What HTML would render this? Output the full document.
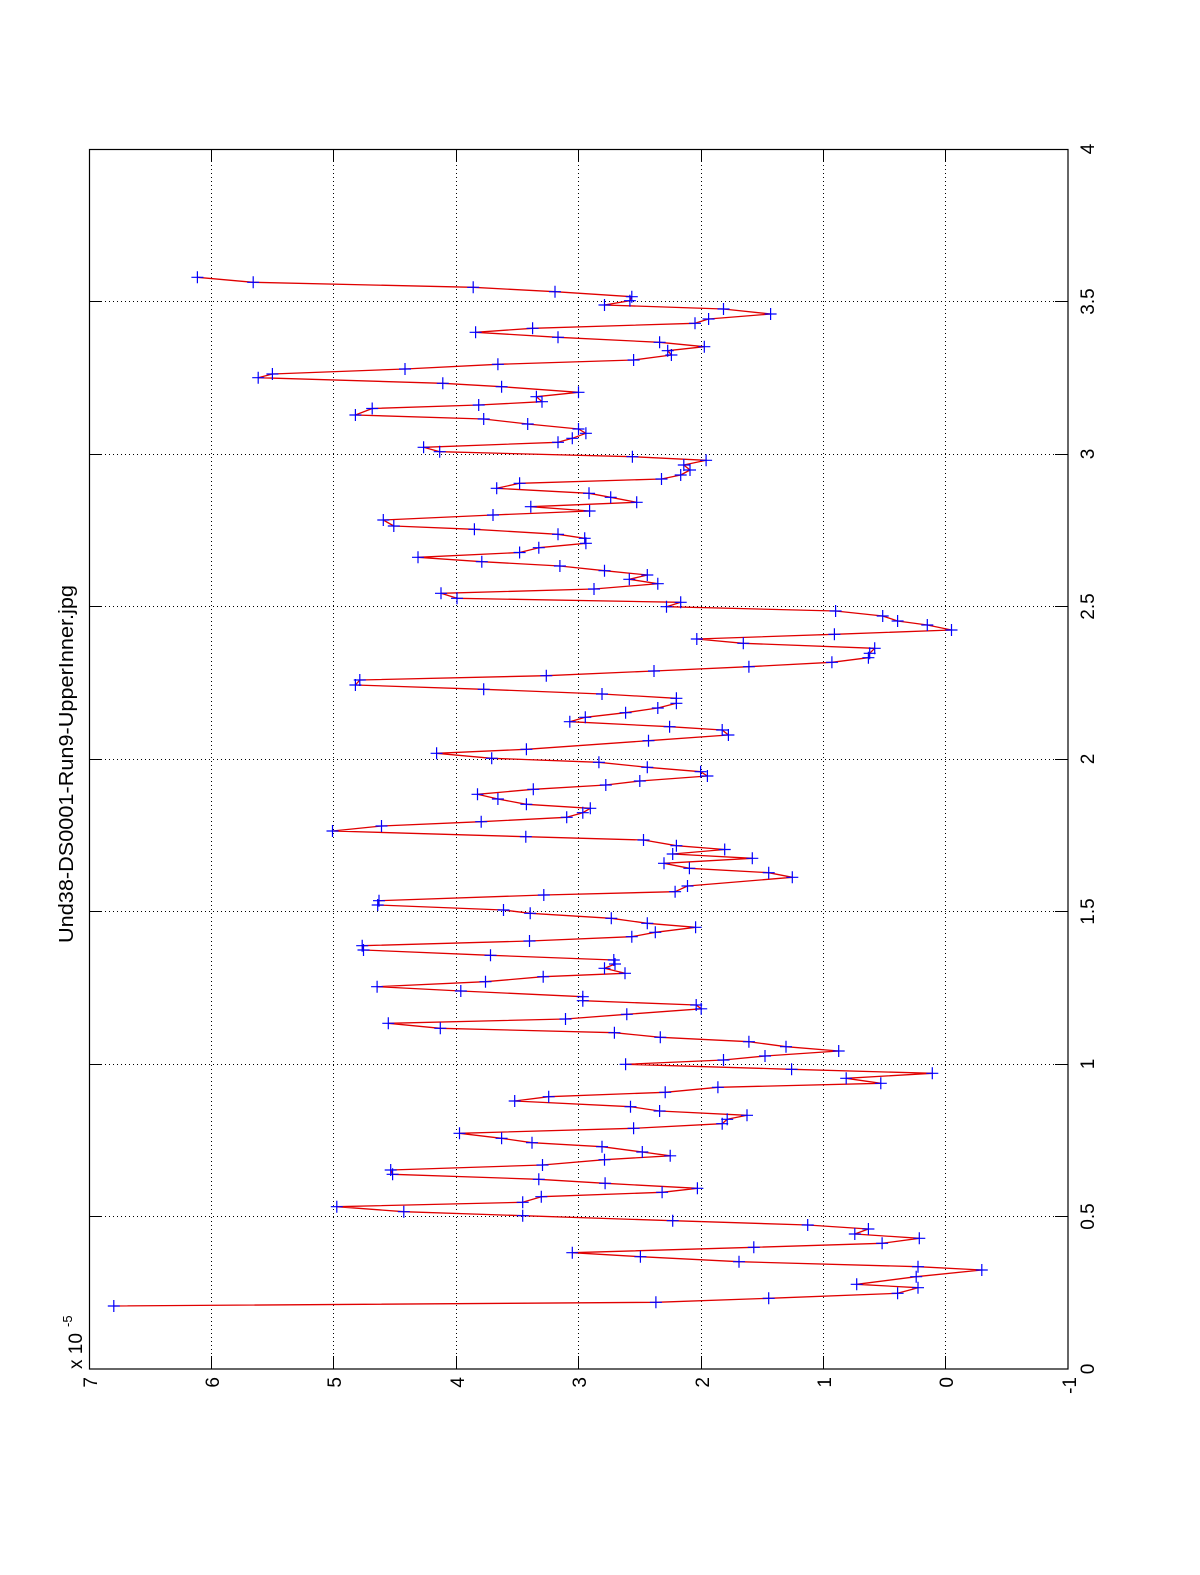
<!DOCTYPE html>
<html>
<head>
<meta charset="utf-8">
<style>
html,body{margin:0;padding:0;background:#fff;}
svg{display:block;}
text{font-family:"Liberation Sans",Arial,sans-serif;fill:#000;}
</style>
</head>
<body>
<svg width="1200" height="1575" viewBox="0 0 1200 1575" xmlns="http://www.w3.org/2000/svg">
<defs>
<marker id="pl" markerUnits="userSpaceOnUse" markerWidth="14" markerHeight="14" refX="7" refY="7" overflow="visible">
<path d="M1 7H13M7 1V13" stroke="#0000ff" stroke-width="1.2" fill="none"/>
</marker>
</defs>
<rect x="0" y="0" width="1200" height="1575" fill="#fff"/>

<!-- grid -->
<g stroke="#000" stroke-width="1" stroke-dasharray="1 3" fill="none">
<line x1="211.5" y1="149" x2="211.5" y2="1369"/>
<line x1="333.5" y1="149" x2="333.5" y2="1369"/>
<line x1="456.5" y1="149" x2="456.5" y2="1369"/>
<line x1="578.5" y1="149" x2="578.5" y2="1369"/>
<line x1="701.5" y1="149" x2="701.5" y2="1369"/>
<line x1="823.5" y1="149" x2="823.5" y2="1369"/>
<line x1="945.5" y1="149" x2="945.5" y2="1369"/>
<line x1="89" y1="1216.5" x2="1068" y2="1216.5"/>
<line x1="89" y1="1064.5" x2="1068" y2="1064.5"/>
<line x1="89" y1="911.5" x2="1068" y2="911.5"/>
<line x1="89" y1="759.5" x2="1068" y2="759.5"/>
<line x1="89" y1="606.5" x2="1068" y2="606.5"/>
<line x1="89" y1="454.5" x2="1068" y2="454.5"/>
<line x1="89" y1="301.5" x2="1068" y2="301.5"/>
</g>

<!-- ticks -->
<g stroke="#000" stroke-width="1" fill="none">
<path d="M211.5 1369V1356M333.5 1369V1356M456.5 1369V1356M578.5 1369V1356M701.5 1369V1356M823.5 1369V1356M945.5 1369V1356"/>
<path d="M211.5 149V162M333.5 149V162M456.5 149V162M578.5 149V162M701.5 149V162M823.5 149V162M945.5 149V162"/>
<path d="M89 1216.5H102M89 1064.5H102M89 911.5H102M89 759.5H102M89 606.5H102M89 454.5H102M89 301.5H102"/>
<path d="M1068 1216.5H1055M1068 1064.5H1055M1068 911.5H1055M1068 759.5H1055M1068 606.5H1055M1068 454.5H1055M1068 301.5H1055"/>
</g>

<!-- data line -->
<polyline fill="none" stroke="#e00000" stroke-width="1.3" stroke-linejoin="round" points="
197.4,277.3 253.2,282.3 473.2,287.3 555,291.7 631.8,296.7 629.9,300.7 604.5,305 723.5,309 770.6,314 708.6,319
695,323.3 532.6,328.3 475.6,332.3 558,337.3 659.6,342.3 704.3,346.7 667.7,350.7 671.4,355 633.6,360 497.9,364.3
405,369 272.4,374 258.2,377.7 442.8,383.3 501.6,386.7 578.5,392.3 536.4,396.7 542,401.7 478.7,405 372.2,408.5
355.4,415 483.7,419 527.7,424 578.5,429 585.9,433.3 572.3,438.3 558,442.3 423.6,447.3 439.7,451.7 632.4,456.7
706.1,460.3 683.8,465 690,470 680.7,475 661.5,479 519.6,483.3 496.7,488.3 589,493.3 610.7,497.3 636.7,502.3
530.8,506.7 589.6,511 493,515 383.3,520 393.8,526 474.4,529.3 558,534.3 584.7,538.3 585.9,543.3 538.8,547.7
519.6,552.5 418,557.3 481.8,561.7 559.9,566 604.5,570.7 647.3,575 629.3,579.3 657.8,583.7 594,589 441,593.3
457,598.3 680.7,602.3 666.5,606.7 835.6,611 882.7,616 897.6,621 927.3,625 951.5,630 834.4,634.3 696.8,639
743.3,643.3 874.7,648.3 869.7,653.3 868.4,657.7 831.9,662.3 748.9,666.7 654,671 546.3,675.7 359.8,680 355.4,685
483.7,689.3 602,694 676.4,698.3 676.4,703.3 657.8,708 625.6,712.7 585.3,717.3 569.8,721.7 669.6,726.7 722.2,730
728.4,735 648.5,740.7 526.4,749.3 436.6,753.3 491.7,758.3 598.9,762.3 647.3,767.3 700.6,771.7 707.4,776 639.8,781
605.8,785 533.3,789.3 477.5,794.3 497.9,799 526.4,804.3 590.3,808.3 582.8,812.7 566.7,817.3 481.2,821.7 381.5,826
332.5,831 525.8,836.7 643.5,840 676.4,845.7 724.7,849.5 672.7,854 752.3,858.3 664,863.3 689.4,868.3 768.7,872.7
792.3,877.3 687.5,886 675.1,891.7 543.8,895 379,900.7 377.7,905 503.5,910 530.2,913.3 611.3,918.3 647.3,923.3
695.6,927.3 655.3,932.3 631.8,936.7 529.5,941 362.2,945.7 363.5,950 490.5,955.3 613.8,960 615,964 604.5,968.3
625,973.3 543.2,976.7 485.5,981.7 377.1,986.7 460.8,991 582.8,996.7 582.8,1000.7 696.2,1005 701.2,1008.8 626.8,1014.3
565.5,1019 388.3,1023.3 440.3,1028.3 614.4,1032.7 660.3,1037.3 748.9,1041.7 786,1046.7 838.7,1051 765,1056 723.5,1060
625.6,1064.3 791.6,1069.3 932.3,1073.3 846.2,1078.3 880.8,1083.3 717.9,1087.3 665.2,1092.3 548.7,1096.7 514.7,1101 630.5,1106.7
659.6,1111 747,1115.3 727.2,1119.3 722.2,1123.7 633.6,1128.3 459.5,1133.3 501.6,1138.3 532,1142.7 602,1146.7 642.3,1152
670.2,1155.8 604.5,1159.7 542.5,1165 390.7,1170 392.6,1174.3 538.8,1179.3 605.1,1183.3 697.4,1188.3 662.1,1192.3 541.3,1196.7
522.7,1202.3 336.8,1206.7 403.8,1211.7 522.7,1215.7 672.7,1220.7 807.7,1225 868.4,1229 854.8,1234 919.3,1238.3 882.1,1243.3
753.8,1247.3 572.3,1252.7 640.4,1256.7 739,1261.7 918,1266.7 981.8,1270 916.2,1276.7 856.7,1284.3 918,1287.7 897.6,1293.3
768.7,1298.3 655.9,1302.3 113.8,1306"/>

<!-- markers -->
<polyline fill="none" stroke="none" marker-start="url(#pl)" marker-mid="url(#pl)" marker-end="url(#pl)" points="
197.4,277.3 253.2,282.3 473.2,287.3 555,291.7 631.8,296.7 629.9,300.7 604.5,305 723.5,309 770.6,314 708.6,319
695,323.3 532.6,328.3 475.6,332.3 558,337.3 659.6,342.3 704.3,346.7 667.7,350.7 671.4,355 633.6,360 497.9,364.3
405,369 272.4,374 258.2,377.7 442.8,383.3 501.6,386.7 578.5,392.3 536.4,396.7 542,401.7 478.7,405 372.2,408.5
355.4,415 483.7,419 527.7,424 578.5,429 585.9,433.3 572.3,438.3 558,442.3 423.6,447.3 439.7,451.7 632.4,456.7
706.1,460.3 683.8,465 690,470 680.7,475 661.5,479 519.6,483.3 496.7,488.3 589,493.3 610.7,497.3 636.7,502.3
530.8,506.7 589.6,511 493,515 383.3,520 393.8,526 474.4,529.3 558,534.3 584.7,538.3 585.9,543.3 538.8,547.7
519.6,552.5 418,557.3 481.8,561.7 559.9,566 604.5,570.7 647.3,575 629.3,579.3 657.8,583.7 594,589 441,593.3
457,598.3 680.7,602.3 666.5,606.7 835.6,611 882.7,616 897.6,621 927.3,625 951.5,630 834.4,634.3 696.8,639
743.3,643.3 874.7,648.3 869.7,653.3 868.4,657.7 831.9,662.3 748.9,666.7 654,671 546.3,675.7 359.8,680 355.4,685
483.7,689.3 602,694 676.4,698.3 676.4,703.3 657.8,708 625.6,712.7 585.3,717.3 569.8,721.7 669.6,726.7 722.2,730
728.4,735 648.5,740.7 526.4,749.3 436.6,753.3 491.7,758.3 598.9,762.3 647.3,767.3 700.6,771.7 707.4,776 639.8,781
605.8,785 533.3,789.3 477.5,794.3 497.9,799 526.4,804.3 590.3,808.3 582.8,812.7 566.7,817.3 481.2,821.7 381.5,826
332.5,831 525.8,836.7 643.5,840 676.4,845.7 724.7,849.5 672.7,854 752.3,858.3 664,863.3 689.4,868.3 768.7,872.7
792.3,877.3 687.5,886 675.1,891.7 543.8,895 379,900.7 377.7,905 503.5,910 530.2,913.3 611.3,918.3 647.3,923.3
695.6,927.3 655.3,932.3 631.8,936.7 529.5,941 362.2,945.7 363.5,950 490.5,955.3 613.8,960 615,964 604.5,968.3
625,973.3 543.2,976.7 485.5,981.7 377.1,986.7 460.8,991 582.8,996.7 582.8,1000.7 696.2,1005 701.2,1008.8 626.8,1014.3
565.5,1019 388.3,1023.3 440.3,1028.3 614.4,1032.7 660.3,1037.3 748.9,1041.7 786,1046.7 838.7,1051 765,1056 723.5,1060
625.6,1064.3 791.6,1069.3 932.3,1073.3 846.2,1078.3 880.8,1083.3 717.9,1087.3 665.2,1092.3 548.7,1096.7 514.7,1101 630.5,1106.7
659.6,1111 747,1115.3 727.2,1119.3 722.2,1123.7 633.6,1128.3 459.5,1133.3 501.6,1138.3 532,1142.7 602,1146.7 642.3,1152
670.2,1155.8 604.5,1159.7 542.5,1165 390.7,1170 392.6,1174.3 538.8,1179.3 605.1,1183.3 697.4,1188.3 662.1,1192.3 541.3,1196.7
522.7,1202.3 336.8,1206.7 403.8,1211.7 522.7,1215.7 672.7,1220.7 807.7,1225 868.4,1229 854.8,1234 919.3,1238.3 882.1,1243.3
753.8,1247.3 572.3,1252.7 640.4,1256.7 739,1261.7 918,1266.7 981.8,1270 916.2,1276.7 856.7,1284.3 918,1287.7 897.6,1293.3
768.7,1298.3 655.9,1302.3 113.8,1306"/>

<!-- axes box -->
<rect x="89.5" y="149.5" width="978.5" height="1219.5" fill="none" stroke="#000" stroke-width="1.2"/>

<!-- bottom (value) tick labels, rotated -->
<g font-size="19" text-anchor="end">
<text transform="translate(97,1377) rotate(-90)">7</text>
<text transform="translate(219,1377) rotate(-90)">6</text>
<text transform="translate(341,1377) rotate(-90)">5</text>
<text transform="translate(464,1377) rotate(-90)">4</text>
<text transform="translate(586,1377) rotate(-90)">3</text>
<text transform="translate(709,1377) rotate(-90)">2</text>
<text transform="translate(831,1377) rotate(-90)">1</text>
<text transform="translate(953,1377) rotate(-90)">0</text>
<text transform="translate(1076,1377) rotate(-90)">-1</text>
</g>

<!-- right (t) tick labels, rotated -->
<g font-size="19" text-anchor="middle">
<text transform="translate(1094,1369) rotate(-90)">0</text>
<text transform="translate(1094,1216.5) rotate(-90)">0.5</text>
<text transform="translate(1094,1064) rotate(-90)">1</text>
<text transform="translate(1094,911.5) rotate(-90)">1.5</text>
<text transform="translate(1094,759) rotate(-90)">2</text>
<text transform="translate(1094,606.5) rotate(-90)">2.5</text>
<text transform="translate(1094,454) rotate(-90)">3</text>
<text transform="translate(1094,301.5) rotate(-90)">3.5</text>
<text transform="translate(1094,149) rotate(-90)">4</text>
</g>

<!-- exponent label -->
<text font-size="19" transform="translate(82,1369) rotate(-90)">x 10</text>
<text font-size="13" transform="translate(72,1327) rotate(-90)">-5</text>

<!-- title -->
<text font-size="20" text-anchor="middle" textLength="358" lengthAdjust="spacingAndGlyphs" transform="translate(73,764) rotate(-90)">Und38-DS0001-Run9-UpperInner.jpg</text>
</svg>
</body>
</html>
